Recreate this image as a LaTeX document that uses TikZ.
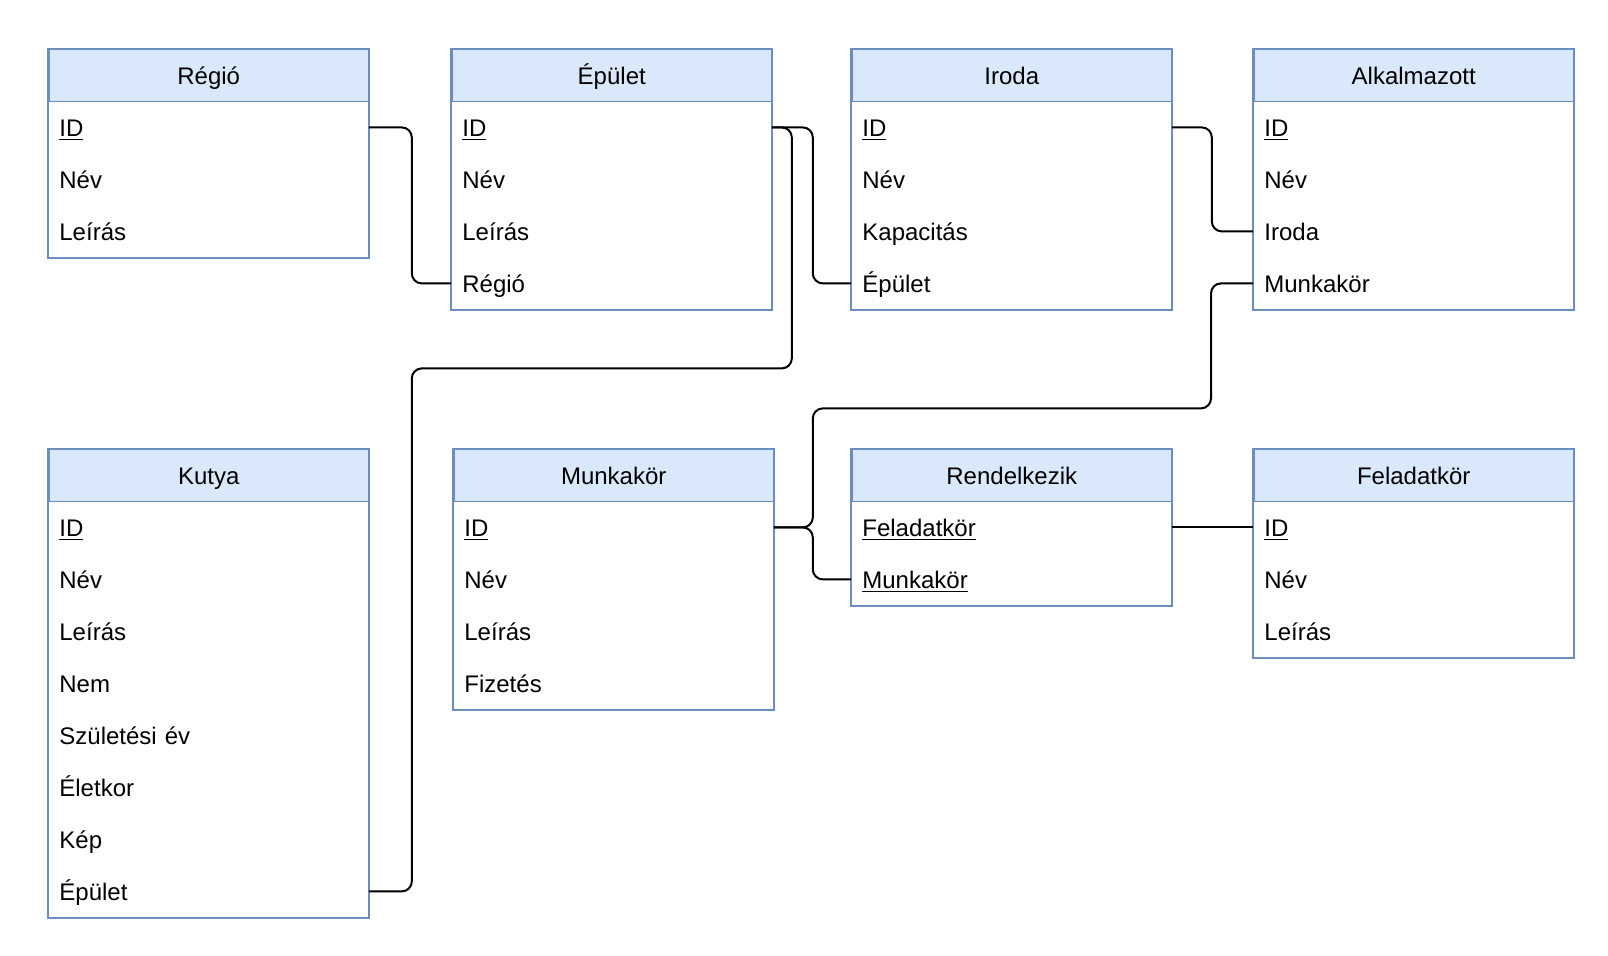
\documentclass[tikz,border=0pt]{standalone}
\usepackage{fontspec}
\setmainfont{Liberation Sans}
\definecolor{hdrfill}{HTML}{DAE8FC}
\definecolor{hdrline}{HTML}{6C8EBF}

\tikzset{
  txt/.style={font=\fontsize{12pt}{14pt}\selectfont, text height=9pt, text depth=0pt},
  hdr/.style={txt, draw=hdrline, fill=hdrfill, line width=0.75pt,
    minimum width=160pt, minimum height=26pt, anchor=north west, inner sep=0pt},
  fld/.style={txt, minimum width=160pt, minimum height=26pt, text width=149pt,
    inner xsep=5.5pt, inner ysep=0pt, align=left, anchor=north west},
  frame/.style={draw=hdrline, line width=0.75pt},
  link/.style={draw=black, line width=1pt, rounded corners=5pt},
}

% one entity table: name, x, y, title, rows (key/text)
\newcommand{\ertable}[5]{%
  \node[hdr] (#1) at (#2,#3) {#4};
  \foreach \k/\t [count=\i from 0] in {#5}
    \node[fld] (#1-\k) at (#2,#3+52+52*\i) {\t};
}

\begin{document}
\begin{tikzpicture}[x=0.5pt,y=-0.5pt]
\path[use as bounding box, fill=white] (0,0) rectangle (1608,956);

% top row
\ertable{regio}{48}{49}{Régió}{id/\underline{ID}, nev/Név, leiras/Leírás}
\ertable{epulet}{451}{49}{Épület}{id/\underline{ID}, nev/Név, leiras/Leírás, regio/Régió}
\ertable{iroda}{851}{49}{Iroda}{id/\underline{ID}, nev/Név, kapacitas/Kapacitás, epulet/Épület}
\ertable{alk}{1253}{49}{Alkalmazott}{id/\underline{ID}, nev/Név, iroda/Iroda, munkakor/Munkakör}

% bottom row
\ertable{kutya}{48}{449}{Kutya}{id/\underline{ID}, nev/Név, leiras/Leírás, nem/Nem, szul/Születési év, eletkor/Életkor, kep/Kép, epulet/Épület}
\ertable{munk}{453}{449}{Munkakör}{id/\underline{ID}, nev/Név, leiras/Leírás, fizetes/Fizetés}
\ertable{rend}{851}{449}{Rendelkezik}{feladatkor/\underline{Feladatkör}, munkakor/\underline{Munkakör}}
\ertable{fel}{1253}{449}{Feladatkör}{id/\underline{ID}, nev/Név, leiras/Leírás}

% table outlines
\draw[frame] (regio.north west) rectangle (regio-leiras.south east);
\draw[frame] (epulet.north west) rectangle (epulet-regio.south east);
\draw[frame] (iroda.north west) rectangle (iroda-epulet.south east);
\draw[frame] (alk.north west) rectangle (alk-munkakor.south east);
\draw[frame] (kutya.north west) rectangle (kutya-epulet.south east);
\draw[frame] (munk.north west) rectangle (munk-fizetes.south east);
\draw[frame] (rend.north west) rectangle (rend-munkakor.south east);
\draw[frame] (fel.north west) rectangle (fel-leiras.south east);

% relations
\draw[link] (regio-id.east) -- ++(43,0) |- (epulet-regio.west);
\draw[link] (epulet-id.east) -- ++(41,0) |- (iroda-epulet.west);
\draw[link] (epulet-id.east) -- ++(20,0) -- ++(0,241)
  -| ([xshift=21.5pt]kutya-epulet.east) -- (kutya-epulet.east);
\draw[link] (iroda-id.east) -- ++(40,0) |- (alk-iroda.west);
\draw[link] (alk-munkakor.west) -- ++(-42,0) -- ++(0,125)
  -| ([xshift=19.5pt]munk-id.east) -- (munk-id.east);
\draw[link] (munk-id.east) -- ++(39,0) |- (rend-munkakor.west);
\draw[link] (rend-feladatkor.east) -- (fel-id.west);
\end{tikzpicture}
\end{document}
